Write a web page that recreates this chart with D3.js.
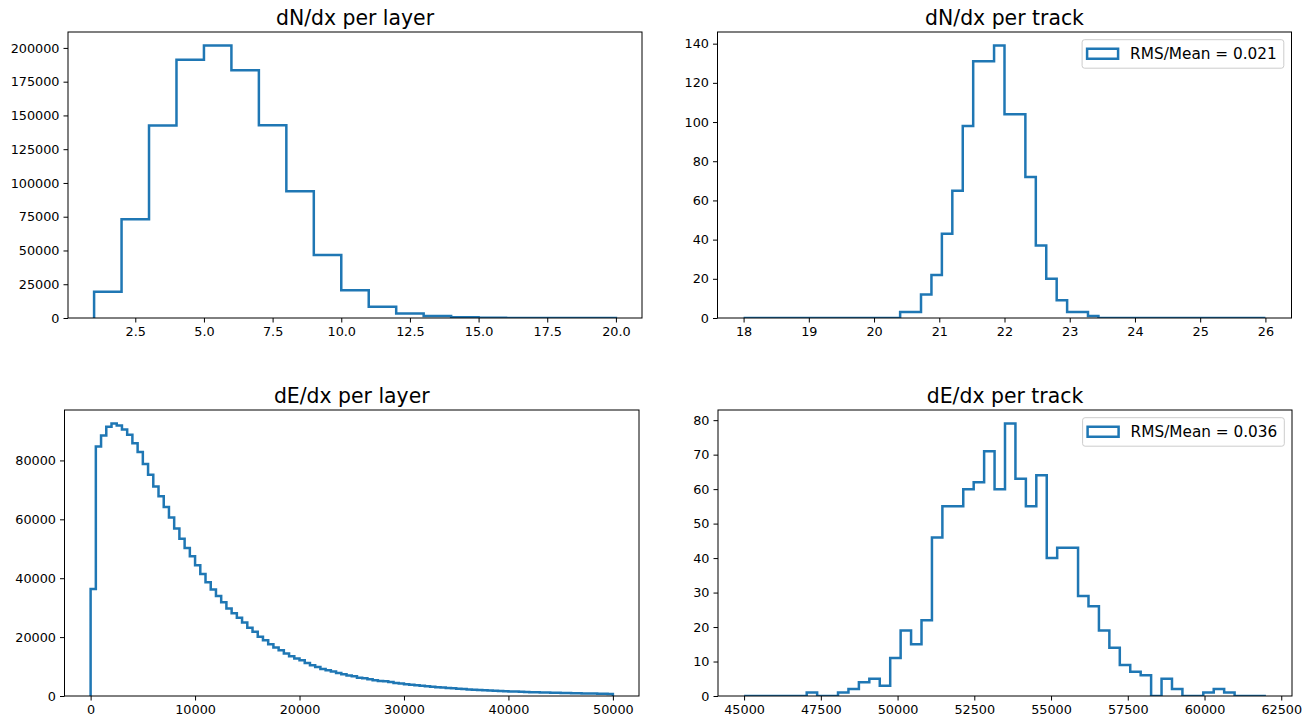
<!DOCTYPE html>
<html>
<head>
<meta charset="utf-8">
<script src="https://cdn.jsdelivr.net/npm/d3@7"></script>
<style>
  html, body { margin: 0; padding: 0; background: #fff; }
  svg { display: block; font-family: "DejaVu Sans", sans-serif; }
</style>
</head>
<body>
<svg id="fig" width="1302" height="718"></svg>
<script>
// ---- histogram data -------------------------------------------------------

// dN/dx per layer: integer bins from 1 to 20
const dNLayerRange = [1, 20];
const dNLayerCounts = [19500, 73200, 142500, 191300, 201700, 183400, 142700, 93900,
  46700, 20600, 8300, 3300, 1500, 600, 200, 60, 15, 4, 1];
const dNLayerXTicks = [2.5, 5, 7.5, 10, 12.5, 15, 17.5, 20];
const dNLayerYTicks = [0, 25000, 50000, 75000, 100000, 125000, 150000, 175000, 200000];

// dN/dx per track: 50 bins from 18 to 26
const dNTrackRange = [18, 26];
const dNTrackCounts = [0, 0, 0, 0, 0, 0, 0, 0, 0, 0, 0, 0, 0, 0, 0,
  3, 3, 12, 22, 43, 65, 98, 131, 131, 139, 104, 104, 72, 37, 20, 9, 3, 3, 1,
  0, 0, 0, 0, 0, 0, 0, 0, 0, 0, 0, 0, 0, 0, 0, 0];
const dNTrackXTicks = [18, 19, 20, 21, 22, 23, 24, 25, 26];
const dNTrackYTicks = [0, 20, 40, 60, 80, 100, 120, 140];
const dNTrackLegend = "RMS/Mean = 0.021";

// dE/dx per layer: 100 bins from 0 to 50000
const dELayerRange = [0, 50000];
const dELayerCounts = [36300, 84760, 88500, 91400, 92500, 91900, 90500, 88700, 85800, 82900,
  78800, 75100, 71150, 67850, 64200, 60650, 56850, 53400, 50300, 47500,
  44400, 41400, 38650, 36200, 34000, 31850, 29750, 28100, 26600, 24970,
  23150, 21790, 20100, 18950, 17590, 16460, 15550, 14410, 13510, 12710,
  12140, 11240, 10440, 9870, 9190, 8740, 8290, 7830, 7380, 6920,
  6700, 6240, 6020, 5680, 5330, 5110, 4990, 4770, 4430, 4220,
  4000, 3820, 3640, 3470, 3300, 3150, 3000, 2860, 2720, 2590,
  2460, 2350, 2240, 2130, 2030, 1940, 1850, 1770, 1690, 1620,
  1550, 1490, 1430, 1370, 1310, 1260, 1210, 1160, 1120, 1080,
  1040, 1000, 960, 920, 880, 850, 810, 780, 750, 720];
const dELayerXTicks = [0, 10000, 20000, 30000, 40000, 50000];
const dELayerYTicks = [0, 20000, 40000, 60000, 80000];

// dE/dx per track: 50 bins from 45000 to 62000
const dETrackRange = [45000, 62000];
const dETrackCounts = [0, 0, 0, 0, 0, 0, 1, 0, 0, 1, 2, 4, 5, 3, 11, 19, 15, 22, 46, 55,
  55, 60, 62, 71, 60, 79, 63, 55, 64, 40, 43, 43, 29, 26, 19, 14, 9, 7, 6, 0,
  5, 2, 0, 0, 1, 2, 1, 0, 0, 0];
const dETrackXTicks = [45000, 47500, 50000, 52500, 55000, 57500, 60000, 62500];
const dETrackYTicks = [0, 10, 20, 30, 40, 50, 60, 70, 80];
const dETrackLegend = "RMS/Mean = 0.036";

// ---- drawing ---------------------------------------------------------------

const svg = d3.select("#fig");
const lineColor = "#1f77b4";
let clipId = 0;

function drawHist(cfg) {
  const { left, top, width, height, range, counts, xTicks, yTicks, xFormat, title, legend } = cfg;
  const g = svg.append("g").attr("transform", `translate(${left},${top})`);

  const n = counts.length;
  const binW = (range[1] - range[0]) / n;
  const edges = d3.range(n + 1).map(i => range[0] + i * binW);
  const pad = 0.05 * (range[1] - range[0]);
  const x = d3.scaleLinear().domain([range[0] - pad, range[1] + pad]).range([0, width]);
  const y = d3.scaleLinear().domain([0, d3.max(counts) * 1.05]).range([height, 0]);

  // step outline, closed down to zero at both ends
  const pts = [[edges[0], 0]];
  counts.forEach((c, i) => { pts.push([edges[i], c]); pts.push([edges[i + 1], c]); });
  pts.push([edges[n], 0]);

  const id = "clip" + (clipId++);
  g.append("clipPath").attr("id", id)
    .append("rect").attr("width", width).attr("height", height);

  g.append("path")
    .attr("clip-path", `url(#${id})`)
    .attr("d", d3.line().x(d => x(d[0])).y(d => y(d[1]))(pts))
    .attr("fill", "none")
    .attr("stroke", lineColor)
    .attr("stroke-width", 2.5)
    .attr("stroke-linejoin", "miter");

  const xAxis = d3.axisBottom(x).tickValues(xTicks).tickFormat(xFormat)
    .tickSize(4.5).tickPadding(4).tickSizeOuter(0);
  const yAxis = d3.axisLeft(y).tickValues(yTicks).tickFormat(d3.format("d"))
    .tickSize(4.5).tickPadding(4).tickSizeOuter(0);

  const gx = g.append("g").attr("transform", `translate(0,${height})`).call(xAxis);
  const gy = g.append("g").call(yAxis);
  [gx, gy].forEach(a => {
    a.select(".domain").remove();
    a.selectAll(".tick line").attr("stroke", "#000").attr("stroke-width", 1);
    a.selectAll(".tick text").attr("fill", "#000")
      .style("font-family", "DejaVu Sans").style("font-size", "12.8px");
  });

  // axes frame
  g.append("rect").attr("width", width).attr("height", height)
    .attr("fill", "none").attr("stroke", "#000").attr("stroke-width", 1);

  g.append("text")
    .attr("x", width / 2).attr("y", -7.5)
    .attr("text-anchor", "middle")
    .style("font-size", "20.4px")
    .attr("fill", "#000")
    .text(title);

  if (legend) {
    const fs = 15.3;
    const lg = g.append("g");
    const box = lg.append("rect");
    const txt = lg.append("text").style("font-size", fs + "px").attr("fill", "#000").text(legend);
    const tw = txt.node().getComputedTextLength();
    const padL = 5, handleW = 31, gap = 12, padR = 7;
    const bw = padL + handleW + gap + tw + padR;
    const bh = 28.5;
    const bx = width - 7.7 - bw, by = 7.7;
    box.attr("x", bx).attr("y", by).attr("width", bw).attr("height", bh)
      .attr("rx", 2.5).attr("fill", "#fff").attr("fill-opacity", 0.8)
      .attr("stroke", "#cccccc").attr("stroke-width", 1);
    lg.append("rect")
      .attr("x", bx + padL).attr("y", by + bh / 2 - 5.2)
      .attr("width", handleW).attr("height", 10)
      .attr("fill", "none").attr("stroke", lineColor).attr("stroke-width", 2.5);
    txt.attr("x", bx + padL + handleW + gap).attr("y", by + bh / 2).attr("dy", "0.36em");
  }
}

drawHist({ left: 68, top: 32, width: 574, height: 286, range: dNLayerRange,
  counts: dNLayerCounts, xTicks: dNLayerXTicks, yTicks: dNLayerYTicks,
  xFormat: d3.format(".1f"), title: "dN/dx per layer" });

drawHist({ left: 717.5, top: 32, width: 574, height: 286, range: dNTrackRange,
  counts: dNTrackCounts, xTicks: dNTrackXTicks, yTicks: dNTrackYTicks,
  xFormat: d3.format("d"), title: "dN/dx per track", legend: dNTrackLegend });

drawHist({ left: 64.5, top: 410, width: 574.5, height: 286, range: dELayerRange,
  counts: dELayerCounts, xTicks: dELayerXTicks, yTicks: dELayerYTicks,
  xFormat: d3.format("d"), title: "dE/dx per layer" });

drawHist({ left: 718, top: 410, width: 574, height: 286, range: dETrackRange,
  counts: dETrackCounts, xTicks: dETrackXTicks, yTicks: dETrackYTicks,
  xFormat: d3.format("d"), title: "dE/dx per track", legend: dETrackLegend });
</script>
</body>
</html>
